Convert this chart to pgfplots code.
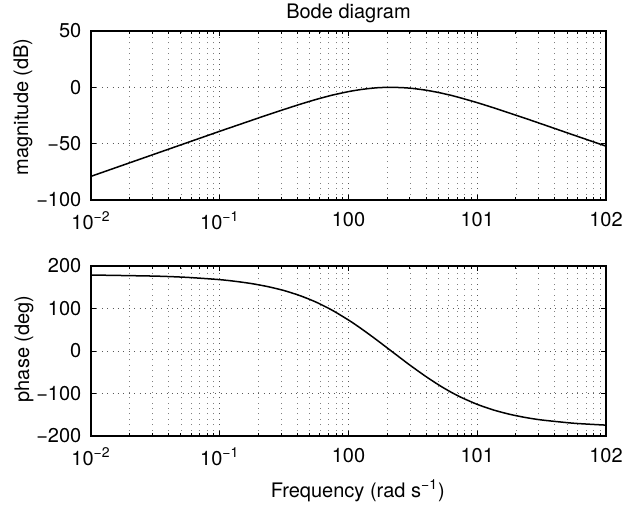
\documentclass[border=0pt]{standalone}
\usepackage{fontspec}
\setmainfont{TeX Gyre Heros}
\usepackage{pgfplots}
\pgfplotsset{compat=1.18}
\pgfplotsset{
  bodestyle/.style={
    scale only axis,
    width=257.5pt,
    anchor=south west,
    xmin=0.01, xmax=100,
    xtick={0.01,0.1,1,10,100},
    xticklabels={10\textsuperscript{−2},10\textsuperscript{−1},100,101,102},
    minor xtick={0.02,0.03,0.04,0.05,0.06,0.07,0.08,0.09,0.2,0.3,0.4,0.5,0.6,0.7,0.8,0.9,2,3,4,5,6,7,8,9,20,30,40,50,60,70,80,90},
    tick align=inside,
    xtick pos=both, ytick pos=both,
    major tick length=2.5pt,
    minor tick length=1.5pt,
    xmajorgrids, xminorgrids, ymajorgrids,
    major grid style={black!65, line width=0.4pt, dash pattern=on 0.5pt off 2.2pt},
    minor grid style={black!50, line width=0.4pt, dash pattern=on 0.5pt off 2.2pt},
    axis line style={black, line width=0.75pt},
    every tick/.style={black, line width=0.5pt},
    tick label style={font=\fontsize{10}{12}\selectfont},
    label style={font=\fontsize{10}{12}\selectfont},
    title style={font=\fontsize{10}{12}\selectfont},
    xticklabel style={yshift=-2.5pt},
    yticklabel style={xshift=-1.3pt},
  }
}
\begin{document}
\begin{tikzpicture}
\path[use as bounding box] (0,0) rectangle (319pt,252pt);
\begin{semilogxaxis}[bodestyle,
  at={(45.5pt,152pt)},
  height=84.5pt,
  ymin=-100, ymax=50,
  ytick={-100,-50,0,50},
  yticklabels={−100,−50,0,50},
  title={Bode diagram},
  every axis title shift=0pt,
  title style={at={(axis description cs:0.5,1)}, anchor=base, yshift=6.3pt},
  ylabel={magnitude (dB)},
  ylabel style={at={(axis description cs:-0.132,0.552)}, anchor=center},
]
\addplot[black, line width=0.75pt, smooth, tension=0.4] coordinates {
(0.01,-79.0) (0.031623,-59.0) (0.056234,-49.0) (0.1,-39.0) (0.13335,-34.1) (0.17783,-29.2)
(0.23714,-24.3) (0.31623,-19.6) (0.42170,-15.0) (0.56234,-10.7) (0.74989,-6.9) (1,-3.8)
(1.1220,-2.8) (1.2589,-1.9) (1.4125,-1.2) (1.5849,-0.6) (1.7783,-0.2)
(2.1380,0.0) (2.5119,-0.2) (2.8184,-0.5) (3.1623,-1.0) (3.9811,-2.5)
(5.0119,-4.6) (5.6234,-5.9) (6.3096,-7.2) (7.4989,-9.5) (10,-13.6)
(13.335,-18.1) (17.783,-22.8) (23.714,-27.6) (31.623,-32.5) (56.234,-42.4)
(100,-52.2)
};
\end{semilogxaxis}
\begin{semilogxaxis}[bodestyle,
  at={(45.5pt,34pt)},
  height=85pt,
  ymin=-200, ymax=200,
  ytick={-200,-100,0,100,200},
  yticklabels={−200,−100,0,100,200},
  ylabel={phase (deg)},
  ylabel style={at={(axis description cs:-0.130,0.512)}, anchor=center},
  xlabel={Frequency (rad s\textsuperscript{−1})},
  xlabel style={at={(axis description cs:0.518,-0.359)}, anchor=base},
]
\addplot[black, line width=0.75pt, smooth, tension=0.4] coordinates {
(0.01,178.8) (0.031623,176.2) (0.056234,173.2) (0.1,167.9) (0.13335,163.8) (0.17783,158.5)
(0.23714,151.4) (0.31623,142.2) (0.42170,130.1) (0.56234,114.8) (0.74989,95.7) (1,72.9)
(1.1220,62.9) (1.2589,52.4) (1.4125,41.5) (1.5849,30.4) (1.7783,19.0)
(2.1380,0.5) (2.5119,-15.6) (2.8184,-27.1) (3.1623,-38.3) (3.9811,-59.8)
(5.0119,-79.7) (5.6234,-88.8) (6.3096,-97.4) (7.4989,-109.1) (10,-125.6)
(13.335,-138.7) (17.783,-148.8) (23.714,-156.5) (31.623,-162.3) (56.234,-170.0)
(100,-174.4)
};
\end{semilogxaxis}
\end{tikzpicture}
\end{document}
